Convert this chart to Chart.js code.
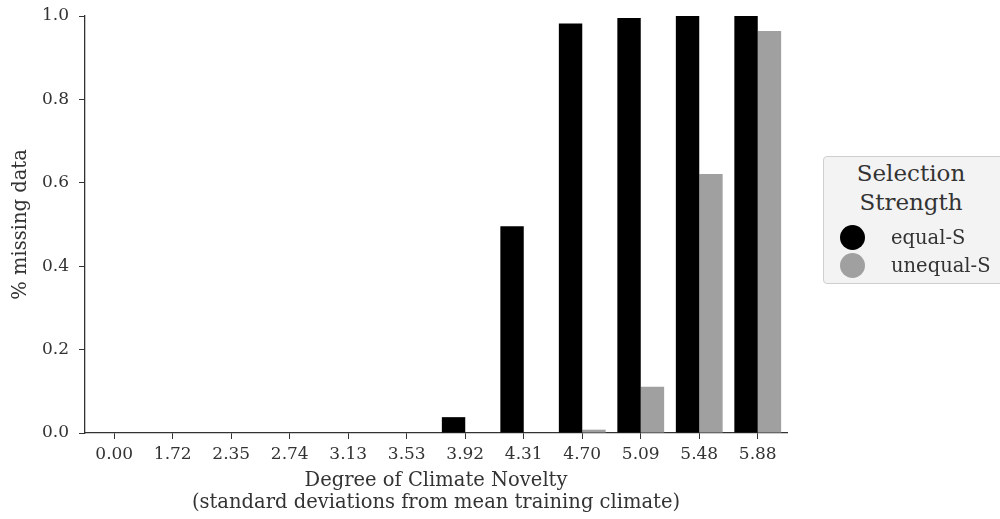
<!DOCTYPE html>
<html>
<head>
<meta charset="utf-8">
<script src="https://cdn.jsdelivr.net/npm/chart.js@4.4.1/dist/chart.umd.min.js"></script>
<style>
  body { margin: 0; background: #fff; }
  #wrap { position: relative; width: 1000px; height: 519px; }
  #legend {
    position: absolute; left: 823px; top: 156px; width: 190px; height: 128px;
    box-sizing: border-box; border: 1px solid #cfcfcf; border-radius: 4px;
    background: #f3f3f3; font-family: "DejaVu Serif", serif; color: #333;
  }
  #legend .title { text-align: center; font-size: 23px; line-height: 29px; margin-top: 2px; margin-bottom: 7px; margin-right: 14px; }
  #legend .item { position: relative; height: 28px; font-size: 19.5px; line-height: 28px; padding-left: 67px; }
  #legend .dot { position: absolute; left: 16px; top: 1px; width: 25px; height: 25px; border-radius: 50%; }
</style>
</head>
<body>
<div id="wrap">
  <canvas id="chart" width="1000" height="519"></canvas>
  <div id="legend"></div>
</div>
<script>
const NOVELTY = ['0.00', '1.72', '2.35', '2.74', '3.13', '3.53', '3.92', '4.31', '4.70', '5.09', '5.48', '5.88'];
const EQUAL_S = [0, 0, 0, 0, 0, 0, 0.038, 0.496, 0.982, 0.995, 1.0, 1.0];
const UNEQUAL_S = [0, 0, 0, 0, 0, 0, 0, 0, 0.008, 0.111, 0.621, 0.964];
const SERIES_NAMES = ['equal-S', 'unequal-S'];
const SERIES_COLORS = ['#000000', '#a0a0a0'];
const Y_TICKS = [0, 0.2, 0.4, 0.6, 0.8, 1.0];

const TEXT = '#333';
const TICK_FONT = { family: 'DejaVu Serif', size: 17 };
const LABEL_FONT = { family: 'DejaVu Serif', size: 19.5, lineHeight: 1.08 };

function bars(label, data, color){
    return {
        label: label,
        data: data,
        backgroundColor: color,
        borderColor: color,
        borderWidth: 0,
        categoryPercentage: 0.8,
        barPercentage: 1.0
    };
}

new Chart(document.getElementById('chart').getContext('2d'), {
    type: 'bar',
    data: {
        labels: NOVELTY,
        datasets: [
            bars(SERIES_NAMES[0], EQUAL_S, SERIES_COLORS[0]),
            bars(SERIES_NAMES[1], UNEQUAL_S, SERIES_COLORS[1])
        ]
    },
    options: {
        responsive: false,
        animation: false,
        layout: { padding: { top: 16, right: 213, left: 0, bottom: 0 } },
        plugins: { legend: { display: false }, tooltip: { enabled: false } },
        scales: {
            x: {
                offset: true,
                grid: { display: true, offset: false, drawOnChartArea: false, tickLength: 6, tickColor: TEXT, tickWidth: 1 },
                border: { color: TEXT, width: 1.3 },
                ticks: { font: TICK_FONT, color: TEXT, padding: 5, maxRotation: 0, autoSkip: false },
                title: {
                    display: true,
                    text: ['Degree of Climate Novelty', '(standard deviations from mean training climate)'],
                    font: LABEL_FONT,
                    color: TEXT,
                    padding: { top: 2, bottom: 6 }
                },
                afterFit: (s) => { s.height = 86; }
            },
            y: {
                min: 0,
                max: 1,
                afterBuildTicks: (s) => { s.ticks = Y_TICKS.map(v => ({ value: v })); },
                grid: { display: true, drawOnChartArea: false, tickLength: 6, tickColor: TEXT, tickWidth: 1 },
                border: { color: TEXT, width: 1.3 },
                ticks: { font: TICK_FONT, color: TEXT, padding: 10, callback: (v) => Number(v).toFixed(1) },
                title: {
                    display: true,
                    text: '% missing data',
                    font: { family: 'DejaVu Serif', size: 19.5 },
                    color: TEXT,
                    padding: { top: 9, bottom: 4 }
                },
                // fixed axis width; the top label may overhang the padding
                afterFit: (s) => { s.width = 85; s.paddingTop = 0; s.paddingBottom = 0; }
            }
        }
    }
});

// legend box: title plus one circle marker per series
const legend = document.getElementById('legend');
legend.innerHTML = '<div class="title">Selection<br>Strength</div>' +
    SERIES_NAMES.map((name, i) =>
        '<div class="item"><span class="dot" style="background:' + SERIES_COLORS[i] + '"></span>' + name + '</div>'
    ).join('');
</script>
</body>
</html>
